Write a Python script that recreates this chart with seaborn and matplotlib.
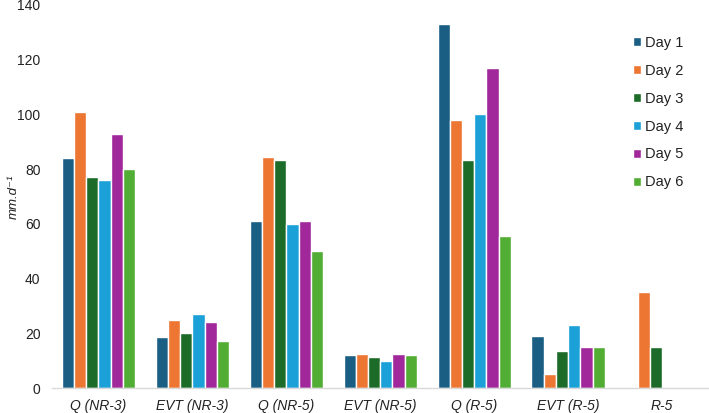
import numpy as np
import pandas as pd
import seaborn as sns
import matplotlib
matplotlib.use("Agg")
import matplotlib.pyplot as plt

categories = ["Q (NR-3)", "EVT (NR-3)", "Q (NR-5)", "EVT (NR-5)", "Q (R-5)", "EVT (R-5)", "R-5"]
days = ["Day 1", "Day 2", "Day 3", "Day 4", "Day 5", "Day 6"]
day1 = [84, 18.5, 61, 12, 133, 19, np.nan]
day2 = [101, 25, 84.5, 12.5, 98, 5, 35]
day3 = [77, 20, 83.5, 11.5, 83.5, 13.5, 15]
day4 = [76, 27, 60, 10, 100, 23, np.nan]
day5 = [93, 24, 61, 12.5, 117, 15, np.nan]
day6 = [80, 17, 50, 12, 55.5, 15, np.nan]
colors = ["#1b5e84", "#ec7632", "#1c6b28", "#1ba0d8", "#a0289b", "#52ad34"]

series = [day1, day2, day3, day4, day5, day6]
rows = []
for d, vals in zip(days, series):
    for c, v in zip(categories, vals):
        rows.append({"cat": c, "day": d, "val": v})
df = pd.DataFrame(rows).dropna()

sns.set_style("white")
plt.rcParams['font.family'] = ['Liberation Sans', 'DejaVu Sans']

fig = plt.figure(figsize=(7.09, 4.13), dpi=100)
ax = fig.add_axes([51.5/709, 1-388/413, 1-51.5/709, (388-5)/413])

sns.barplot(data=df, x="cat", y="val", hue="day", order=categories, hue_order=days,
            palette=colors, width=0.78, edgecolor="white", linewidth=1.0,
            saturation=1, ax=ax, errorbar=None)

ax.set_ylim(0, 140)
ax.set_xlim(-0.5, 6.5)
ax.set_yticks(range(0, 141, 20))
ax.tick_params(axis='y', labelsize=10, colors='#222222', length=0, pad=8)
ax.tick_params(axis='x', labelsize=10, colors='#222222', length=0, pad=8)
for lab in ax.get_xticklabels():
    lab.set_fontstyle('italic')
ax.set_xlabel("")
ax.set_ylabel("mm.d\u207b\u00b9", fontsize=9.5, fontstyle='italic', color='#222222')
ax.yaxis.set_label_coords((20 - 51.5) / (709 - 51.5), 0.5)
for s in ["top", "right", "left"]:
    ax.spines[s].set_visible(False)
ax.spines["bottom"].set_color("#d9d9d9")
ax.spines["bottom"].set_linewidth(1.0)

leg = ax.legend(loc="upper left", bbox_to_anchor=(633/709, 1-36/413),
                bbox_transform=fig.transFigure, frameon=False,
                fontsize=10.5, handlelength=0.55, handleheight=0.55, handletextpad=0.25,
                labelspacing=0.95, borderaxespad=0, borderpad=0)
for t in leg.get_texts():
    t.set_color('#222222')

fig.savefig("out.png", dpi=100)
